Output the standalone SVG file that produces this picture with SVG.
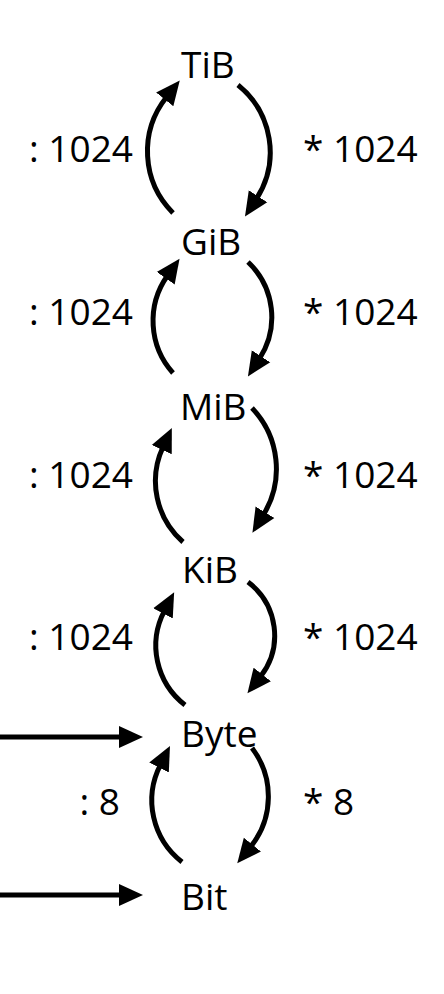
<svg xmlns="http://www.w3.org/2000/svg" width="444" height="994" viewBox="0 0 444 994">
<style>
  text { font-family: "Open Sans", "Liberation Sans", Arial, sans-serif; font-size: 37px; fill: #000; }
  .lbl-l { text-anchor: end; }
  .arc { fill: none; stroke: #000; stroke-width: 5; marker-end: url(#ah); }
</style>
<defs>
  <marker id="ah" markerUnits="userSpaceOnUse" markerWidth="25" markerHeight="24" refX="3" refY="11" orient="auto" viewBox="0 0 25 22">
    <path d="M0,0 L24,11 L0,22 z" fill="#000"/>
  </marker>
</defs>
<rect width="444" height="994" fill="#fff"/>
<g id="connectors">
  <path class="arc" d="M173,213 A87,87 0 0 1 166.6,97"/>
  <path class="arc" d="M238,85 A86,86 0 0 1 256.4,198.8"/>
  <path class="arc" d="M173,373 A78,78 0 0 1 167.4,275.8"/>
  <path class="arc" d="M248,262 A76,76 0 0 1 259.4,358.8"/>
  <path class="arc" d="M183,542 A81,81 0 0 1 163,447"/>
  <path class="arc" d="M252,408 A88,88 0 0 1 263.4,514.8"/>
  <path class="arc" d="M185,705 A75,75 0 0 1 164.4,610.8"/>
  <path class="arc" d="M248,582 A67,67 0 0 1 260.4,676.8"/>
  <path class="arc" d="M182,862 A78,78 0 0 1 160.4,764.8"/>
  <path class="arc" d="M252,748 A80,80 0 0 1 250.5,846.9"/>
  <path class="arc" d="M0,737 H122"/>
  <path class="arc" d="M0,895 H122"/>
</g>
<g id="labels">
  <text class="lbl-l" x="133" y="162">: 1024</text>
  <text x="303" y="162">* 1024</text>
  <text class="lbl-l" x="133" y="325">: 1024</text>
  <text x="303" y="325">* 1024</text>
  <text class="lbl-l" x="133" y="488">: 1024</text>
  <text x="303" y="488">* 1024</text>
  <text class="lbl-l" x="120" y="815">: 8</text>
  <text x="303" y="815">* 8</text>
  <text class="lbl-l" x="133" y="650">: 1024</text>
  <text x="303" y="650">* 1024</text>
</g>
<g id="node-tib"><text x="181" y="78">TiB</text></g>
<g id="node-gib"><text x="181" y="255">GiB</text></g>
<g id="node-mib"><text x="180" y="420">MiB</text></g>
<g id="node-kib"><text x="182" y="583">KiB</text></g>
<g id="node-byte"><text x="181" y="747">Byte</text></g>
<g id="node-bit"><text x="181" y="910">Bit</text></g>
</svg>
